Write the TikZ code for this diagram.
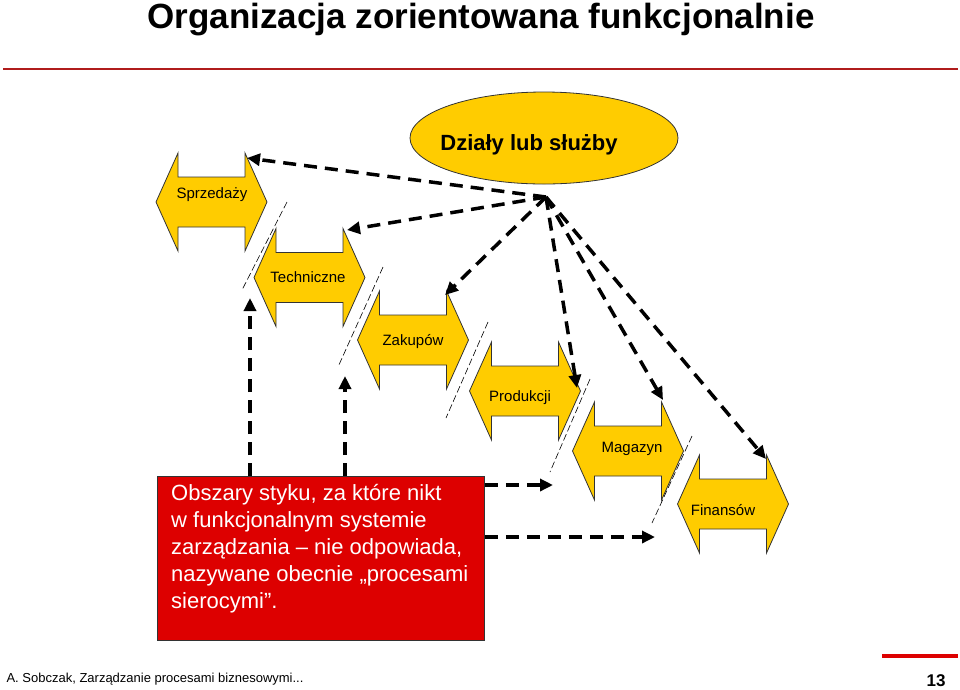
\documentclass[tikz,border=0pt]{standalone}
\usepackage{fontspec}
\setmainfont{Liberation Sans}
\usetikzlibrary{shapes.geometric,arrows.meta}
\definecolor{gold}{HTML}{FFCC00}
\definecolor{boxred}{HTML}{DD0000}
\definecolor{linered}{HTML}{B01C1C}
\begin{document}
\begin{tikzpicture}[x=1pt,y=-1pt,
  dept/.pic={\draw[draw=black!80, fill=gold, line width=0.8pt]
     (-55.5,0) -- (-33.5,-49) -- (-33.5,-25) -- (33.5,-25) -- (33.5,-49) -- (55.5,0)
     -- (33.5,49) -- (33.5,25) -- (-33.5,25) -- (-33.5,49) -- cycle;},
  lbl/.style={font=\fontsize{15}{17}\selectfont},
  flow/.style={line width=3.5pt, dash pattern=on 13pt off 8pt, -{Triangle[length=13pt,width=12pt]}},
  sep/.style={line width=0.6pt, dash pattern=on 7pt off 3pt}]
\useasboundingbox (0,0) rectangle (960,689);
\node[font=\bfseries\fontsize{35}{38}\selectfont, inner sep=0pt] (title) at (481,20) {Organizacja zorientowana funkcjonalnie};
\draw[linered, line width=2pt] (3,69) -- (958,69);
\node[ellipse, draw=black!80, fill=gold, line width=0.8pt, minimum width=268pt, minimum height=92pt] (dz) at (544,138) {};
\node[font=\bfseries\fontsize{22}{24}\selectfont] (dzt) at (529,145) {Działy lub służby};
\pic at (211.5,202) {dept};
\node[lbl] (st) at (212,195) {Sprzedaży};
\pic at (309.5,277.5) {dept};
\node[lbl] (tt) at (308,277) {Techniczne};
\pic at (413,340) {dept};
\node[lbl] (zt) at (413,342) {Zakupów};
\pic at (525,391) {dept};
\node[lbl] (pt) at (520,398) {Produkcji};
\pic at (628,451) {dept};
\node[lbl] (mt) at (632,449) {Magazyn};
\pic at (733,504) {dept};
\node[lbl] (ft) at (723,510) {Finansów};
\node[draw=black!80, fill=boxred, line width=0.8pt, minimum width=327pt, minimum height=164pt,
  anchor=north west, inner sep=0pt] (box) at (157,476) {};
\node[anchor=north west, text=white, align=left, inner sep=0pt, font=\fontsize{22}{27}\selectfont] (boxt) at (171,484)
  {Obszary styku, za które nikt\\ w funkcjonalnym systemie\\ zarządzania -- nie odpowiada,\\ nazywane obecnie „procesami\\ sierocymi”.};
\coordinate (hub) at (546,197);
\coordinate (hs) at (247,158);
\coordinate (ht) at (347,230);
\coordinate (hz) at (445,295);
\coordinate (hp) at (577,388);
\coordinate (hm) at (663,400);
\coordinate (hf) at (766,459);
\foreach \c in {hs,ht,hz,hp,hm,hf} \draw[flow] (hub) -- (\c);
\coordinate (u1) at (250,298);
\coordinate (u2) at (345,376);
\coordinate (r1) at (553,485);
\coordinate (r2) at (655,537);
\draw[flow] (box.north -| u1) -- (u1);
\draw[flow] (box.north -| u2) -- (u2);
\draw[flow] (box.east |- r1) -- (r1);
\draw[flow] (box.east |- r2) -- (r2);
\draw[sep] (287,202) -- (242,290);
\draw[sep] (383,267) -- (338,367);
\draw[sep] (488,322) -- (446,418);
\draw[sep] (590,379) -- (550,472);
\draw[sep] (692,436) -- (652,523);
\draw[boxred, line width=4pt] (882,656) -- (958,656);
\node[anchor=west, font=\fontsize{13}{15}\selectfont] (foot) at (3,679) {A. Sobczak, Zarządzanie procesami biznesowymi...};
\node[font=\bfseries\fontsize{17}{20}\selectfont] (num) at (936,681) {13};
\end{tikzpicture}
\end{document}
